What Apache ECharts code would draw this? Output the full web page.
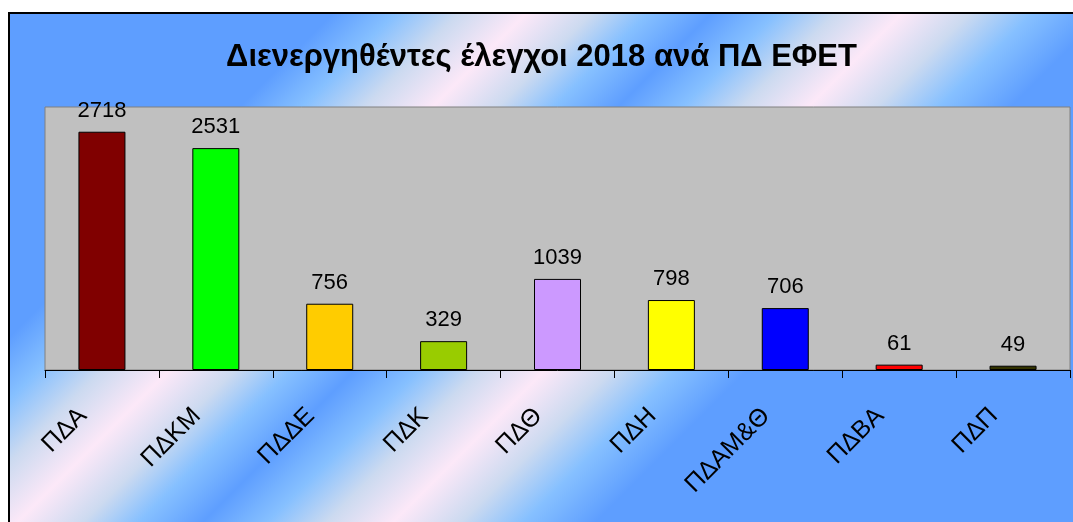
<!DOCTYPE html>
<html>
<head>
<meta charset="utf-8">
<script src="https://cdn.jsdelivr.net/npm/echarts@6/dist/echarts.min.js"></script>
<style>
    html, body { margin: 0; padding: 0; background: #fff; overflow: hidden; }
    .frame {
        position: absolute;
        left: 8px;
        top: 12px;
        width: 1063px;
        height: 508px;
        border-left: 2px solid #000;
        border-top: 2px solid #000;
    }
    #chart { width: 1063px; height: 508px; }
</style>
</head>
<body>
<div class="frame"><div id="chart"></div></div>
<script>
const titleText = 'Διενεργηθέντες έλεγχοι 2018 ανά ΠΔ ΕΦΕΤ';
const categories = ['ΠΔΑ', 'ΠΔΚΜ', 'ΠΔΔΕ', 'ΠΔΚ', 'ΠΔΘ', 'ΠΔΗ', 'ΠΔΑΜ&Θ', 'ΠΔΒΑ', 'ΠΔΠ'];
const values = [2718, 2531, 756, 329, 1039, 798, 706, 61, 49];
const barColors = ['#800000', '#00FF00', '#FFCC00', '#99CC00', '#CC99FF', '#FFFF00', '#0000FF', '#FF0000', '#333300'];

const font = '"Liberation Sans", Arial, sans-serif';
const blue = '#5E9EFF';
const mid = '#86C0FF';
const grey = '#CCDAF0';
const pink = '#FCE8F8';

let myChart = echarts.init(document.getElementById('chart'));
myChart.setOption({
    // diagonal "calm water" fill: stripes run bottom-left to top-right
    backgroundColor: new echarts.graphic.LinearGradient(0, 0, 786, 786, [
        { offset: 0, color: blue },
        { offset: 0.205, color: blue },
        { offset: 0.245, color: mid },
        { offset: 0.285, color: grey },
        { offset: 0.328, color: pink },
        { offset: 0.37, color: grey },
        { offset: 0.405, color: mid },
        { offset: 0.446, color: blue },
        { offset: 0.487, color: mid },
        { offset: 0.525, color: grey },
        { offset: 0.567, color: pink },
        { offset: 0.61, color: grey },
        { offset: 0.65, color: mid },
        { offset: 0.696, color: blue },
        { offset: 1, color: blue },
    ], true),
    title: {
        text: titleText,
        left: 'center',
        top: 23,
        textStyle: { fontFamily: font, fontSize: 31, fontWeight: 'bold', color: '#000' },
    },
    grid: {
        left: 35,
        right: 3,
        top: 93,
        bottom: 152,
        show: true,
        backgroundColor: '#C0C0C0',
        borderColor: '#808080',
        borderWidth: 1,
    },
    xAxis: {
        type: 'category',
        data: categories,
        axisLine: { lineStyle: { color: '#000', width: 1 } },
        axisTick: { show: true, length: 8, lineStyle: { color: '#000' } },
        axisLabel: {
            rotate: 45,
            margin: 23,
            padding: [0, 27, 0, 0],
            fontFamily: font,
            fontSize: 25,
            color: '#000',
            interval: 0,
        },
    },
    yAxis: {
        type: 'value',
        min: 0,
        max: 3000,
        show: false,
        splitLine: { show: false },
    },
    series: [
        {
            type: 'bar',
            data: values.map((v, i) => ({ value: v, itemStyle: { color: barColors[i] } })),
            barWidth: 47,
            itemStyle: { borderColor: '#000', borderWidth: 1 },
            label: {
                show: true,
                position: 'top',
                distance: 10,
                fontFamily: font,
                fontSize: 22,
                color: '#000',
            },
        },
    ],
});
</script>
</body>
</html>
